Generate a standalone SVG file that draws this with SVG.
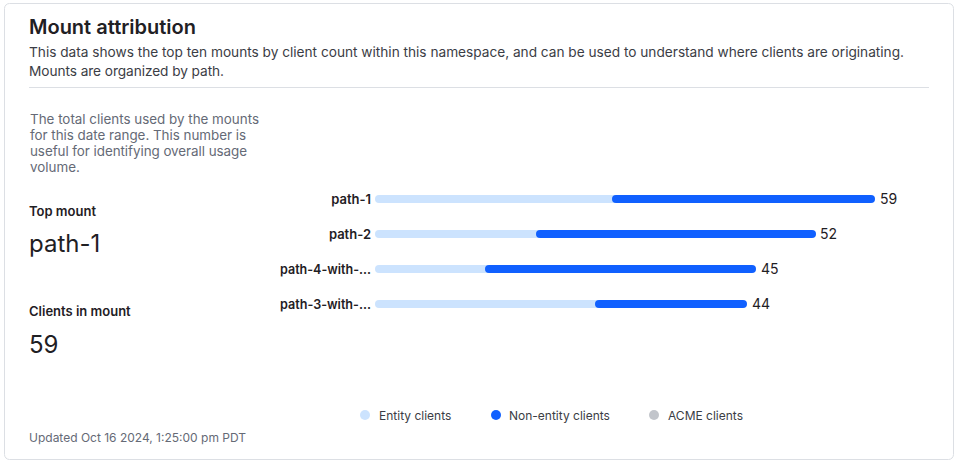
<svg xmlns="http://www.w3.org/2000/svg" width="958" height="465" viewBox="0 0 958 465">
<style>
text{font-family:Inter,"Liberation Sans",sans-serif}
.title{font-size:20px;font-weight:600;fill:#1f2024}
.desc{font-size:13.7px;fill:#3b3d45}
.help{font-size:13.4px;fill:#656a76}
.lbl{font-size:13px;font-weight:600;fill:#1f2024}
.big{font-size:24px;fill:#1f2024}
.yl{font-size:13px;font-weight:600;fill:#1f2024;text-anchor:end}
.val{font-size:14px;fill:#1f2024}
.leg{font-size:12px;fill:#3b3d45}
.foot{font-size:12px;fill:#656a76}
.ent{fill:#cce3fe}
.non{fill:#1060ff}
</style>
<rect x="0" y="0" width="958" height="465" fill="#ffffff"/>
<g id="card">
<rect x="4.5" y="3.5" width="949" height="456" rx="5" fill="#ffffff" stroke="#dcdfe4"/>
<text class="title" x="29" y="34">Mount attribution</text>
<text class="desc" x="29" y="57" textLength="875" lengthAdjust="spacing">This data shows the top ten mounts by client count within this namespace, and can be used to understand where clients are originating.</text>
<text class="desc" x="29" y="76" textLength="195" lengthAdjust="spacing">Mounts are organized by path.</text>
<line x1="29" y1="87.5" x2="929" y2="87.5" stroke="#dcdfe4"/>
</g>
<g id="stats">
<text class="help" x="30" y="124" textLength="229" lengthAdjust="spacing">The total clients used by the mounts</text>
<text class="help" x="30" y="140" textLength="216" lengthAdjust="spacing">for this date range. This number is</text>
<text class="help" x="30" y="156" textLength="217" lengthAdjust="spacing">useful for identifying overall usage</text>
<text class="help" x="30" y="172">volume.</text>
<text class="lbl" x="29" y="216">Top mount</text>
<text class="big" x="29" y="252">path-1</text>
<text class="lbl" x="29" y="316">Clients in mount</text>
<text class="big" x="29" y="353">59</text>
</g>
<g id="row-path-1">
<text class="yl" x="371" y="204">path-1</text>
<rect class="ent" x="375" y="195" width="245" height="8" rx="4"/>
<rect class="non" x="612" y="195" width="263" height="8" rx="4"/>
<text class="val" x="880" y="204">59</text>
</g>
<g id="row-path-2">
<text class="yl" x="371" y="239">path-2</text>
<rect class="ent" x="375" y="230" width="169" height="8" rx="4"/>
<rect class="non" x="536" y="230" width="280" height="8" rx="4"/>
<text class="val" x="820" y="239">52</text>
</g>
<g id="row-path-4">
<text class="yl" x="371" y="274" textLength="91" lengthAdjust="spacingAndGlyphs">path-4-with-...</text>
<rect class="ent" x="375" y="265" width="119" height="8" rx="4"/>
<rect class="non" x="485" y="265" width="271" height="8" rx="4"/>
<text class="val" x="761" y="274">45</text>
</g>
<g id="row-path-3">
<text class="yl" x="371" y="309" textLength="91" lengthAdjust="spacingAndGlyphs">path-3-with-...</text>
<rect class="ent" x="375" y="300" width="229" height="8" rx="4"/>
<rect class="non" x="595" y="300" width="152" height="8" rx="4"/>
<text class="val" x="752" y="309">44</text>
</g>
<g id="legend">
<circle cx="365" cy="415" r="5" fill="#cce3fe"/>
<text class="leg" x="379" y="419.5">Entity clients</text>
<circle cx="496" cy="415" r="5" fill="#1060ff"/>
<text class="leg" x="509" y="419.5">Non-entity clients</text>
<circle cx="654" cy="415" r="5" fill="#c2c5cb"/>
<text class="leg" x="668" y="419.5">ACME clients</text>
</g>
<g id="footer">
<text class="foot" x="29" y="442">Updated Oct 16 2024, 1:25:00 pm PDT</text>
</g>
<g id="connectors"></g>
</svg>
